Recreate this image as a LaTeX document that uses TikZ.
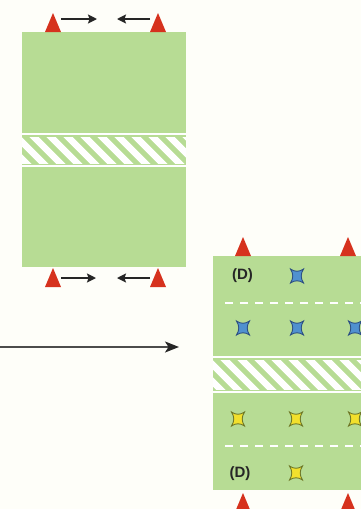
\documentclass[tikz,border=0pt]{standalone}
\usepackage{fontspec}
\setmainfont{Liberation Sans}
\usetikzlibrary{arrows.meta}

\definecolor{paper}{RGB}{254,254,249}
\definecolor{pitch}{RGB}{183,220,148}
\definecolor{conered}{RGB}{214,50,30}
\definecolor{bibblue}{RGB}{80,145,208}
\definecolor{bibblueedge}{RGB}{45,80,130}
\definecolor{bibyellow}{RGB}{242,224,45}
\definecolor{bibyellowedge}{RGB}{110,120,40}

\tikzset{
  fieldarea/.style={fill=pitch, draw=none},
  boundary/.style={draw=white, line width=2pt},
  hatchline/.style={draw=white, line width=6.5pt},
  zoneline/.style={draw=white, line width=1.8pt, dash pattern=on 8pt off 7pt},
  shiftarrow/.style={draw=black!85, line width=1.5pt,
    -{Stealth[length=9pt,width=9pt,inset=1.5pt]}},
  bigarrow/.style={draw=black!70, line width=1.6pt,
    -{Stealth[length=14pt,width=11pt,inset=3.5pt,black!85]}},
  label/.style={font=\bfseries\fontsize{15}{17}\selectfont, text=black!85, inner sep=0pt},
  % cone: red triangle whose base midpoint sits at the pic origin
  cone/.pic={\fill[conered] (-8,0) -- (0,-19) -- (8,0) -- cycle;},
  % bib marker: square with pinched sides
  bib/.pic={\path[pic actions, line width=0.9pt]
      (-6.5,-7) .. controls (-2.5,-4) and (2.5,-4) .. (6.5,-7)
                .. controls (3.5,-2.5) and (3.5,2.5) .. (6.5,7)
                .. controls (2.5,4) and (-2.5,4) .. (-6.5,7)
                .. controls (-3.5,2.5) and (-3.5,-2.5) .. (-6.5,-7) -- cycle;},
  bluebib/.style={fill=bibblue, draw=bibblueedge},
  yellowbib/.style={fill=bibyellow, draw=bibyellowedge},
}

% halfway band: two white lines with a hatched strip between them
\newcommand\halfband[4]{% x-left, x-right, y-top, y-bottom
  \draw[boundary] (#1,#3+1) -- (#2,#3+1);
  \draw[boundary] (#1,#4-1) -- (#2,#4-1);
  \begin{scope}
    \clip (#1,#3+4) rectangle (#2,#4-4);
    \foreach \k in {-60,-43,...,220}
      \draw[hatchline] (#1+\k,#3) -- (#1+\k+#4-#3,#4);
  \end{scope}}

\begin{document}
\begin{tikzpicture}[x=1pt,y=-1pt]
\fill[paper] (0,0) rectangle (361,509);
\useasboundingbox (0,0) rectangle (361,509);

% ---------- first pitch ----------
\fill[fieldarea] (22,32) rectangle (186,267);
\halfband{22}{186}{133}{167}

\pic at (53,32) {cone};
\pic at (158,32) {cone};
\pic at (53,287) {cone};
\pic at (158,287) {cone};

\coordinate (tl) at (61,19);
\coordinate (tlend) at (97,19);
\coordinate (tr) at (150,19);
\coordinate (trend) at (117,19);
\coordinate (bl) at (61,278);
\coordinate (blend) at (96,278);
\coordinate (br) at (150,278);
\coordinate (brend) at (117,278);
\draw[shiftarrow] (tl) -- (tlend);
\draw[shiftarrow] (tr) -- (trend);
\draw[shiftarrow] (bl) -- (blend);
\draw[shiftarrow] (br) -- (brend);

% ---------- progression arrow ----------
\coordinate (from) at (0,347);
\coordinate (to) at (179,347);
\draw[bigarrow] (from) -- (to);

% ---------- second pitch ----------
\fill[fieldarea] (213,256) rectangle (362,490);
\halfband{213}{362}{356}{393}
\draw[zoneline] (225,303) -- (362,303);
\draw[zoneline] (225,446) -- (362,446);

\pic at (243,256) {cone};
\pic at (348,256) {cone};
\pic at (243,512) {cone};
\pic at (348,512) {cone};

\node[label] (dtop) at (242.5,276) {(D)};
\node[label] (dbot) at (240,474) {(D)};

\pic[bluebib] at (297,276) {bib};
\pic[bluebib] at (243,328) {bib};
\pic[bluebib] at (297,328) {bib};
\pic[bluebib] at (355,328) {bib};

\pic[yellowbib] at (238,419) {bib};
\pic[yellowbib] at (296,419) {bib};
\pic[yellowbib] at (355,419) {bib};
\pic[yellowbib] at (296,473) {bib};
\end{tikzpicture}
\end{document}
